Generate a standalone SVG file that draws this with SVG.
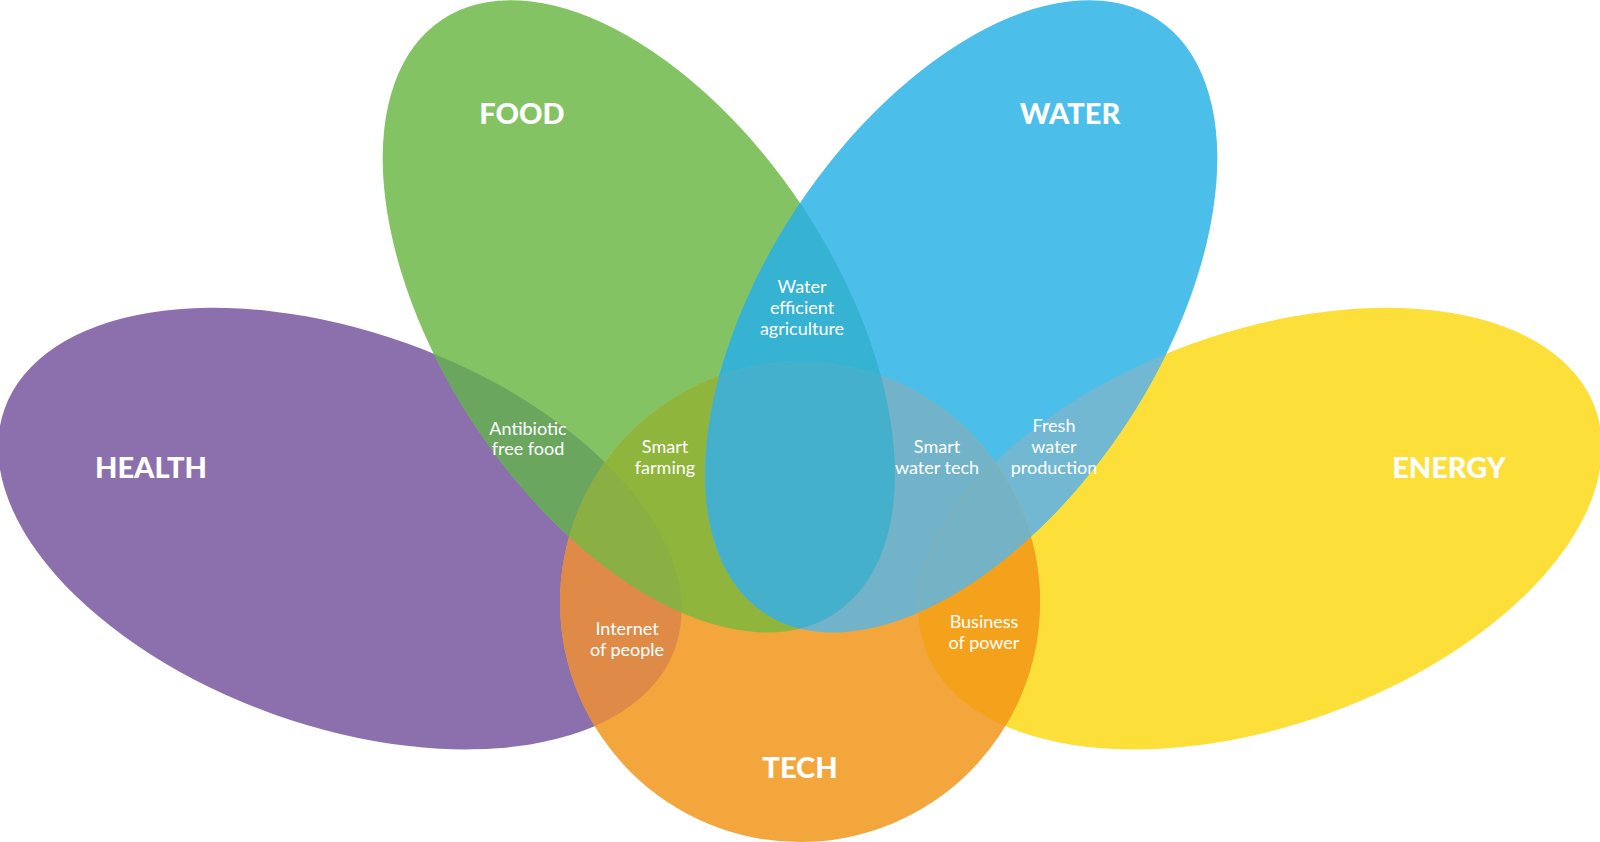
<svg xmlns="http://www.w3.org/2000/svg" width="1600" height="842" viewBox="0 0 1600 842">
<style>
.title{font-family:Lato,"Liberation Sans",sans-serif;font-weight:900;font-size:29px;fill:#fff;text-anchor:middle}
.lbl{font-family:Lato,"Liberation Sans",sans-serif;font-size:18px;fill:#fff;text-anchor:middle}
</style>
<defs>
<clipPath id="cH"><ellipse cx="339.8" cy="528.6" rx="356" ry="197" transform="rotate(19.65 339.8 528.6)"/></clipPath>
<clipPath id="cE"><ellipse cx="1260.2" cy="528.6" rx="356" ry="197" transform="rotate(-19.65 1260.2 528.6)"/></clipPath>
<clipPath id="cF"><ellipse cx="638.8" cy="316.3" rx="356" ry="197" transform="rotate(56.5 638.8 316.3)"/></clipPath>
<clipPath id="cW"><ellipse cx="961.2" cy="316.3" rx="356" ry="197" transform="rotate(-56.5 961.2 316.3)"/></clipPath>
</defs>
<rect width="1600" height="842" fill="#fff"/>
<g id="node-health">
<ellipse cx="339.8" cy="528.6" rx="356" ry="197" transform="rotate(19.65 339.8 528.6)" fill="#8C70AD"/>
<text class="title" x="151" y="477.5">HEALTH</text>
</g>
<g id="node-energy">
<ellipse cx="1260.2" cy="528.6" rx="356" ry="197" transform="rotate(-19.65 1260.2 528.6)" fill="#FDDF3A"/>
<text class="title" x="1449" y="477.5">ENERGY</text>
</g>
<g id="node-food">
<ellipse cx="638.8" cy="316.3" rx="356" ry="197" transform="rotate(56.5 638.8 316.3)" fill="#84C364"/>
<text class="title" x="522" y="123.5">FOOD</text>
</g>
<g id="node-water">
<ellipse cx="961.2" cy="316.3" rx="356" ry="197" transform="rotate(-56.5 961.2 316.3)" fill="#4BBEE9"/>
<text class="title" x="1070" y="123.5">WATER</text>
</g>
<g id="node-tech">
<circle cx="800" cy="602" r="240" fill="#F3A63B"/>
<text class="title" x="800" y="777.5">TECH</text>
</g>
<g id="overlaps">
<g clip-path="url(#cH)"><ellipse cx="638.8" cy="316.3" rx="356" ry="197" transform="rotate(56.5 638.8 316.3)" fill="#6BA65F"/></g>
<g clip-path="url(#cH)"><circle cx="800" cy="602" r="240" fill="#E08A48"/></g>
<g clip-path="url(#cF)"><circle cx="800" cy="602" r="240" fill="#8FB53C"/></g>
<g clip-path="url(#cH)"><g clip-path="url(#cF)"><circle cx="800" cy="602" r="240" fill="#8AAF43"/></g></g>
<g clip-path="url(#cF)"><ellipse cx="961.2" cy="316.3" rx="356" ry="197" transform="rotate(-56.5 961.2 316.3)" fill="#36B2D3"/></g>
<g clip-path="url(#cW)"><circle cx="800" cy="602" r="240" fill="#72B3C9"/></g>
<g clip-path="url(#cF)"><g clip-path="url(#cW)"><circle cx="800" cy="602" r="240" fill="#45B0CB"/></g></g>
<g clip-path="url(#cW)"><ellipse cx="1260.2" cy="528.6" rx="356" ry="197" transform="rotate(-19.65 1260.2 528.6)" fill="#72B8D3"/></g>
<g clip-path="url(#cE)"><circle cx="800" cy="602" r="240" fill="#F4A11B"/></g>
<g clip-path="url(#cW)"><g clip-path="url(#cE)"><circle cx="800" cy="602" r="240" fill="#74B2C6"/></g></g>
</g>
<g id="intersection-labels">
<text class="lbl"><tspan x="802" y="293">Water</tspan><tspan x="802" y="314">efficient</tspan><tspan x="802" y="335">agriculture</tspan></text>
<text class="lbl"><tspan x="528" y="435">Antibiotic</tspan><tspan x="528" y="455">free food</tspan></text>
<text class="lbl"><tspan x="665" y="453">Smart</tspan><tspan x="665" y="473.5">farming</tspan></text>
<text class="lbl"><tspan x="937" y="453">Smart</tspan><tspan x="937" y="473.5">water tech</tspan></text>
<text class="lbl"><tspan x="1054" y="432">Fresh</tspan><tspan x="1054" y="453">water</tspan><tspan x="1054" y="473.5">production</tspan></text>
<text class="lbl"><tspan x="627" y="635">Internet</tspan><tspan x="627" y="656">of people</tspan></text>
<text class="lbl"><tspan x="984" y="627.5">Business</tspan><tspan x="984" y="649">of power</tspan></text>
</g>
</svg>
